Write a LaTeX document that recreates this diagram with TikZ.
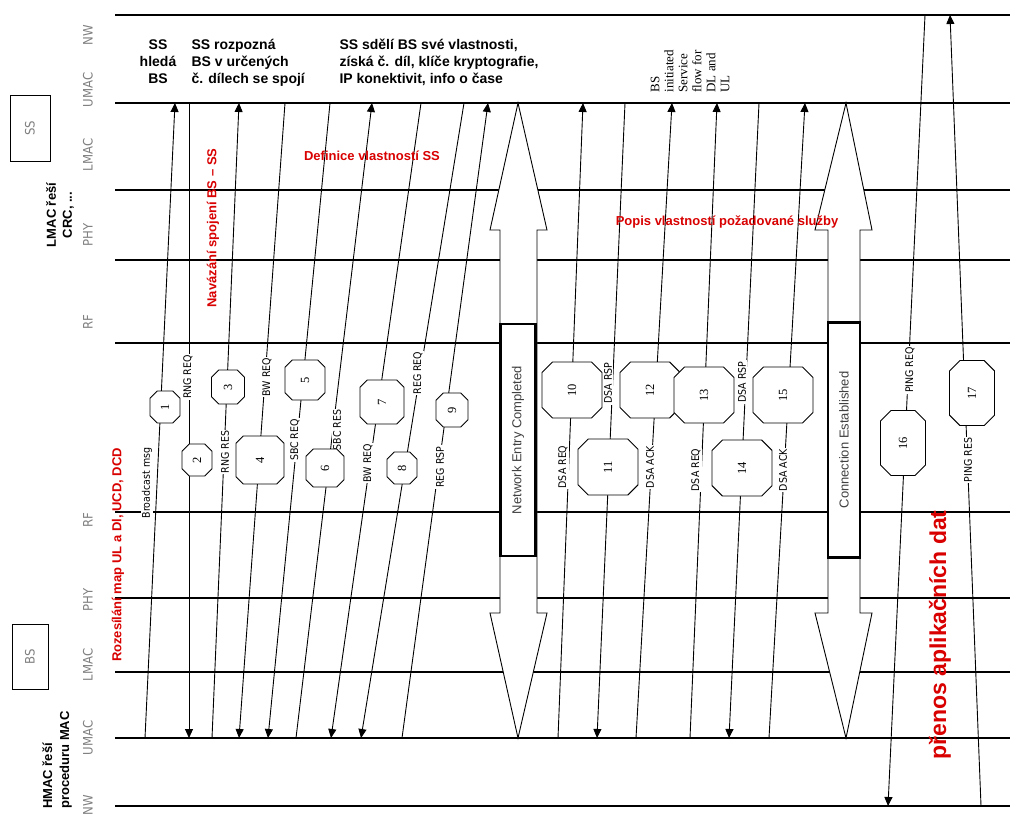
\documentclass[tikz,border=0pt]{standalone}
\usepackage{fontspec}
\setmainfont{Liberation Sans}
\newfontfamily\serifx{Liberation Serif}
\newfontfamily\narrowx{DejaVu Sans Condensed}
\usetikzlibrary{shapes.misc,arrows.meta}
\begin{document}
\begin{tikzpicture}[x=1pt,y=-1pt,
  layer/.style={line width=1.2pt},
  msg/.style={line width=0.9pt},
  tip/.style={-{Triangle[length=9pt,width=8pt]}},
  octa/.style={chamfered rectangle,draw,line width=0.9pt,fill=white,inner sep=0pt,rotate=90,font=\serifx\fontsize{12.5}{12}\selectfont},
  lab/.style={fill=white,inner sep=1pt,rotate=90,font=\narrowx\fontsize{10.5}{10}\selectfont},
  side/.style={rotate=90,text=gray,font=\narrowx\fontsize{13}{13}\selectfont},
  red/.style={text=red!85!black,font=\bfseries\fontsize{13}{14}\selectfont},
  blk/.style={font=\bfseries\fontsize{14}{17}\selectfont,align=left,anchor=north west}]
\useasboundingbox (0,0) rectangle (1024,827);
\fill[white] (0,0) rectangle (1024,827);
% layers
\foreach \y/\n in {15/NW,103/UMAC,190/LMAC,260/PHY,343/RF,512/RF,598/PHY,672/LMAC,738/UMAC,806/NW}{
  \draw[layer] (115,\y) -- (1010,\y);
}
\foreach \y/\n in {35/NW,90/UMAC,155/LMAC,235/PHY,322/RF,520/RF,600/PHY,665/LMAC,738/UMAC,805/NW}{
  \node[side] (L\y) at (88,\y) {\n};
}
\node[draw,minimum width=40pt,minimum height=66pt,line width=0.9pt] (ss) at (30,128) {};
\node[rotate=90,text=gray,font=\narrowx\fontsize{13}{13}\selectfont] (sst) at (30,128) {SS};
\node[draw,minimum width=36pt,minimum height=65pt,line width=0.9pt] (bs) at (30,657) {};
\node[rotate=90,text=gray,font=\narrowx\fontsize{13}{13}\selectfont] (bst) at (30,657) {BS};
\node[rotate=90,align=center,font=\bfseries\fontsize{13}{16}\selectfont] (lmac) at (60,215) {LMAC řeší\\CRC, ...};
\node[rotate=90,align=left,font=\bfseries\fontsize{13}{17}\selectfont] (hmac) at (57,760) {HMAC řeší\\proceduru MAC};
% block arrows
\draw[line width=0.9pt,fill=white] (518,103) -- (547,230) -- (537,230) -- (537,613) -- (547,613) -- (518,738) -- (490,613) -- (500,613) -- (500,230) -- (490,230) -- cycle;
\draw[line width=0.9pt,fill=white] (846,103) -- (872,230) -- (860,230) -- (860,613) -- (872,613) -- (846,738) -- (815,613) -- (828,613) -- (828,230) -- (815,230) -- cycle;
% messages up
\foreach \a/\b [count=\i] in {145/175,212/239,296/372,402/488,558/583,636/672,690/717,769/805}{
  \coordinate (ub\i) at (\a,738); \coordinate (ut\i) at (\b,103);
  \draw[msg,tip] (ub\i) -- (ut\i);
}
\foreach \a/\b [count=\i] in {189/189,285/239,330/268,421/331,464/361,625/597,759/729}{
  \coordinate (dt\i) at (\a,103); \coordinate (db\i) at (\b,738);
  \draw[msg,tip] (dt\i) -- (db\i);
}
\coordinate (p1t) at (925,15); \coordinate (p1b) at (888,806);
\coordinate (p2b) at (981,806); \coordinate (p2t) at (950,15);
\draw[msg,tip] (p1t) -- (p1b);
\draw[msg,tip] (p2b) -- (p2t);
% boxes on block arrows
\node[draw,line width=2.5pt,fill=white,minimum width=35pt,minimum height=232pt,inner sep=0pt] (nec) at (518,440) {};
\node[rotate=90,text=black!75,font=\fontsize{13}{13}\selectfont] (nect) at (518,440) {Network Entry Completed};
\node[draw,line width=2.5pt,fill=white,minimum width=32pt,minimum height=235pt,inner sep=0pt] (ce) at (844,440) {};
\node[rotate=90,text=black!75,font=\fontsize{13}{13}\selectfont] (cet) at (844,440) {Connection Established};
% labels
\foreach \x/\y/\t [count=\i] in {147/483/Broadcast msg,188/377/RNG REQ,225/452/RNG RES,267/377/BW REQ,295/440/SBC REQ,337/430/SBC RES,368/463/BW REQ,418/373/REG REQ,440/467/REG RSP,563/467/DSA REQ,608/383/DSA RSP,650/467/DSA ACK,696/470/DSA REQ,742/382/DSA RSP,783/470/DSA ACK,910/370/PING REQ,968/460/PING RES}{
  \node[lab] (lab\i) at (\x,\y) {\t};
}
% octagons
\foreach \x/\y/\l/\w/\n in {165/407/32/30/1,197/460/32/30/2,228/387/34/33/3,260/460/48/48/4,305/380/40/40/5,325/468/38/38/6,382/402/44/44/7,402/468/32/30/8,452/410/34/32/9,572/390/56/60/10,608/467/56/60/11,650/390/56/60/12,704/395/56/60/13,742/468/56/60/14,783/395/56/60/15,903/443/65/45/16,972/393/65/45/17}{
  \node[octa,minimum width=\l pt,minimum height=\w pt,chamfered rectangle xsep=\w pt*0.3,chamfered rectangle ysep=\w pt*0.3] (o\n) at (\x,\y) {\n};
}
% top texts
\node[font=\bfseries\fontsize{14}{17}\selectfont,align=center,anchor=north] (t1) at (158,36) {SS\\hledá\\BS};
\node[blk] (t2) at (188,36) {SS rozpozná\\BS v určených\\č. dílech se spojí};
\node[blk] (t3) at (336,36) {SS sdělí BS své vlastnosti,\\získá č. díl, klíče kryptografie,\\IP konektivit, info o čase};
\node[rotate=90,anchor=west,align=left,font=\serifx\fontsize{13}{14}\selectfont] (t4) at (690,96) {BS\\initiated\\Service\\flow for\\DL and\\UL};
% red texts
\node[red] (r1) at (372,156) {Definice vlastností SS};
\node[red] (r2) at (727,222) {Popis vlastností požadované služby};
\node[red,rotate=90] (r3) at (213,228) {Navázání spojení BS -- SS};
\node[red,rotate=90] (r4) at (118,555) {Rozesílání map UL a Dl, UCD, DCD};
\node[red,rotate=90,font=\bfseries\fontsize{23}{24}\selectfont] (r5) at (940,635) {přenos aplikačních dat};
\end{tikzpicture}
\end{document}
